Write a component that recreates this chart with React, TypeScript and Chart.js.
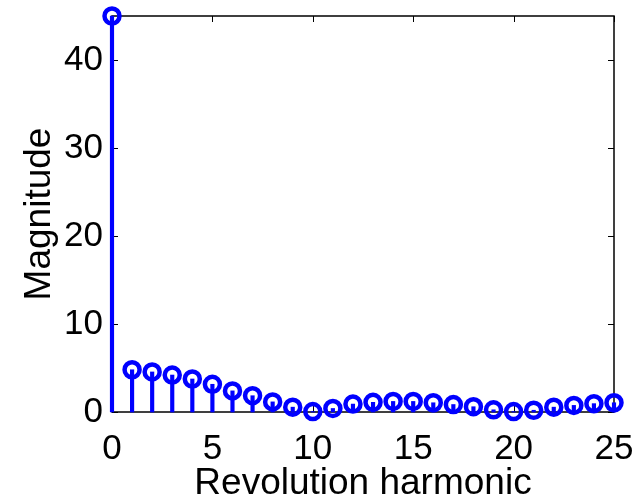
import React, { useEffect, useRef } from "react";
import { Chart, registerables } from "chart.js";

Chart.register(...registerables);

const harmonics: number[] = [0, 1, 2, 3, 4, 5, 6, 7, 8, 9, 10, 11, 12, 13, 14, 15, 16, 17, 18, 19, 20, 21, 22, 23, 24, 25];
const magnitudes: number[] = [45, 4.8, 4.55, 4.2, 3.75, 3.15, 2.4, 1.85, 1.15, 0.55, 0.05, 0.4, 0.9, 1.1, 1.2, 1.2, 1.05, 0.85, 0.6, 0.25, 0.05, 0.2, 0.55, 0.75, 0.95, 1.05];
const xTicks: number[] = [0, 5, 10, 15, 20, 25];
const yTicks: number[] = [0, 10, 20, 30, 40];

const FONT = "'Liberation Sans', Arial, Helvetica, sans-serif";
const BLUE = "#0000ff";

const boxPlugin = {
  id: "matlabBox",
  beforeDatasetsDraw(chart: any) {
    const { ctx, chartArea, scales } = chart;
    const { left, right, top, bottom } = chartArea;
    ctx.save();
    ctx.strokeStyle = "#000";
    ctx.lineWidth = 1;
    const tl = 6;
    ctx.beginPath();
    scales.x.ticks.forEach((t: any) => {
      const px = Math.round(scales.x.getPixelForValue(t.value)) + 0.5;
      ctx.moveTo(px, bottom);
      ctx.lineTo(px, bottom - tl);
      ctx.moveTo(px, top);
      ctx.lineTo(px, top + tl);
    });
    scales.y.ticks.forEach((t: any) => {
      const py = Math.round(scales.y.getPixelForValue(t.value)) + 0.5;
      ctx.moveTo(left, py);
      ctx.lineTo(left + tl, py);
      ctx.moveTo(right, py);
      ctx.lineTo(right - tl, py);
    });
    ctx.stroke();
    ctx.lineWidth = 1.5;
    ctx.strokeRect(left, top, right - left, bottom - top);
    ctx.restore();
  },
};

export default function App() {
  const ref = useRef<HTMLCanvasElement | null>(null);
  useEffect(() => {
    if (!ref.current) return;
    const pts = harmonics.map((h, i) => ({ x: h, y: magnitudes[i] }));
    const chart = new Chart(ref.current, {
      type: "bar",
      data: {
        datasets: [
          {
            type: "scatter",
            data: pts,
            pointStyle: "circle",
            pointRadius: 7.5,
            pointBorderWidth: 4.5,
            pointBackgroundColor: "rgba(0,0,0,0)",
            pointBorderColor: BLUE,
            borderColor: BLUE,
            showLine: false,
            clip: false,
            order: 0,
          } as any,
          {
            type: "bar",
            data: pts,
            backgroundColor: BLUE,
            borderWidth: 0,
            barThickness: 3.5,
            clip: false,
            order: 1,
          } as any,
        ],
      },
      options: {
        responsive: false,
        animation: false,
        events: [],
        layout: { padding: { left: 0, right: 27, top: 16, bottom: 0 } },
        plugins: { legend: { display: false }, tooltip: { enabled: false } },
        scales: {
          x: {
            type: "linear",
            min: 0,
            max: 25,
            offset: false,
            grid: { display: false, drawTicks: false },
            border: { display: false },
            afterBuildTicks: (s: any) => {
              s.ticks = xTicks.map((v) => ({ value: v }));
            },
            afterFit: (s: any) => {
              s.height = 86;
              s.paddingLeft = 0;
              s.paddingRight = 0;
            },
            ticks: {
              font: { family: FONT, size: 35 },
              color: "#000",
              padding: 16,
              maxRotation: 0,
              autoSkip: false,
            },
            title: {
              display: true,
              text: "Revolution harmonic",
              font: { family: FONT, size: 37 },
              color: "#000",
              padding: { top: 0, bottom: -8 },
            },
          },
          y: {
            type: "linear",
            min: 0,
            max: 45,
            grid: { display: false, drawTicks: false },
            border: { display: false },
            afterBuildTicks: (s: any) => {
              s.ticks = yTicks.map((v) => ({ value: v }));
            },
            afterFit: (s: any) => {
              s.width = 112;
              s.paddingTop = 0;
              s.paddingBottom = 0;
            },
            ticks: {
              font: { family: FONT, size: 35 },
              color: "#000",
              padding: 9,
              autoSkip: false,
            },
            title: {
              display: true,
              text: "Magnitude",
              font: { family: FONT, size: 37 },
              color: "#000",
              padding: { top: 18, bottom: 0 },
            },
          },
        },
      },
      plugins: [boxPlugin],
    });
    return () => chart.destroy();
  }, []);
  return (
    <div style={{ position: "fixed", left: 0, top: 0, width: 641, height: 498, background: "#fff" }}>
      <canvas ref={ref} width={641} height={498} style={{ width: 641, height: 498, display: "block" }} />
    </div>
  );
}
